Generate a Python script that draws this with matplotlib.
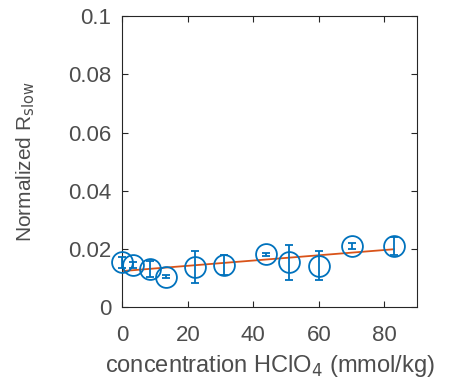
import matplotlib
matplotlib.use("Agg")
import matplotlib.pyplot as plt
import numpy as np

plt.rcParams['font.family'] = ['Liberation Sans', 'DejaVu Sans']

conc = [0, 3.3, 8.4, 13.5, 22.1, 31, 43.9, 51, 60.1, 70.1, 82.9]
rslow = [0.0154, 0.0145, 0.0130, 0.0105, 0.0137, 0.0145, 0.0182, 0.0154, 0.0143, 0.0210, 0.0210]
err = [0.002, 0.001, 0.0027, 0.0004, 0.0055, 0.0035, 0.0005, 0.006, 0.005, 0.001, 0.003]
fit_x = [0, 82.9]
fit_y = [0.0124, 0.0199]

blue = (0, 0.447, 0.741)
orange = (0.85, 0.325, 0.098)
grey = (0.15, 0.15, 0.15)
txt = (0.3, 0.3, 0.3)

fig = plt.figure(figsize=(4.51, 3.83), dpi=100)
ax = fig.add_axes([0.271, 0.198, 0.654, 0.760])

ax.errorbar(conc, rslow, yerr=err, fmt='o', color=blue, mfc='none', mec=blue,
            ms=15, mew=1.3, elinewidth=1.3, capsize=3, capthick=1.3, clip_on=False, zorder=3)
ax.plot(fit_x, fit_y, '-', color=orange, lw=1.3, zorder=2)

ax.set_xlim(0, 90)
ax.set_ylim(0, 0.1)
ax.set_xticks([0, 20, 40, 60, 80])
ax.set_yticks([0, 0.02, 0.04, 0.06, 0.08, 0.1])
ax.set_yticklabels(['0', '0.02', '0.04', '0.06', '0.08', '0.1'])
ax.tick_params(direction='in', top=True, right=True, length=4, width=0.8,
               colors=grey, labelsize=16, labelcolor=txt)
ax.tick_params(axis='x', pad=13)
ax.tick_params(axis='y', pad=8)
for s in ax.spines.values():
    s.set_color(grey)
    s.set_linewidth(0.8)

ax.set_xlabel('concentration HClO$_4$ (mmol/kg)', fontsize=17, color=txt, labelpad=5)
ax.set_ylabel('Normalized R$_{\\mathrm{slow}}$', fontsize=15, color=txt, labelpad=22)

fig.savefig('out.png', dpi=100)
